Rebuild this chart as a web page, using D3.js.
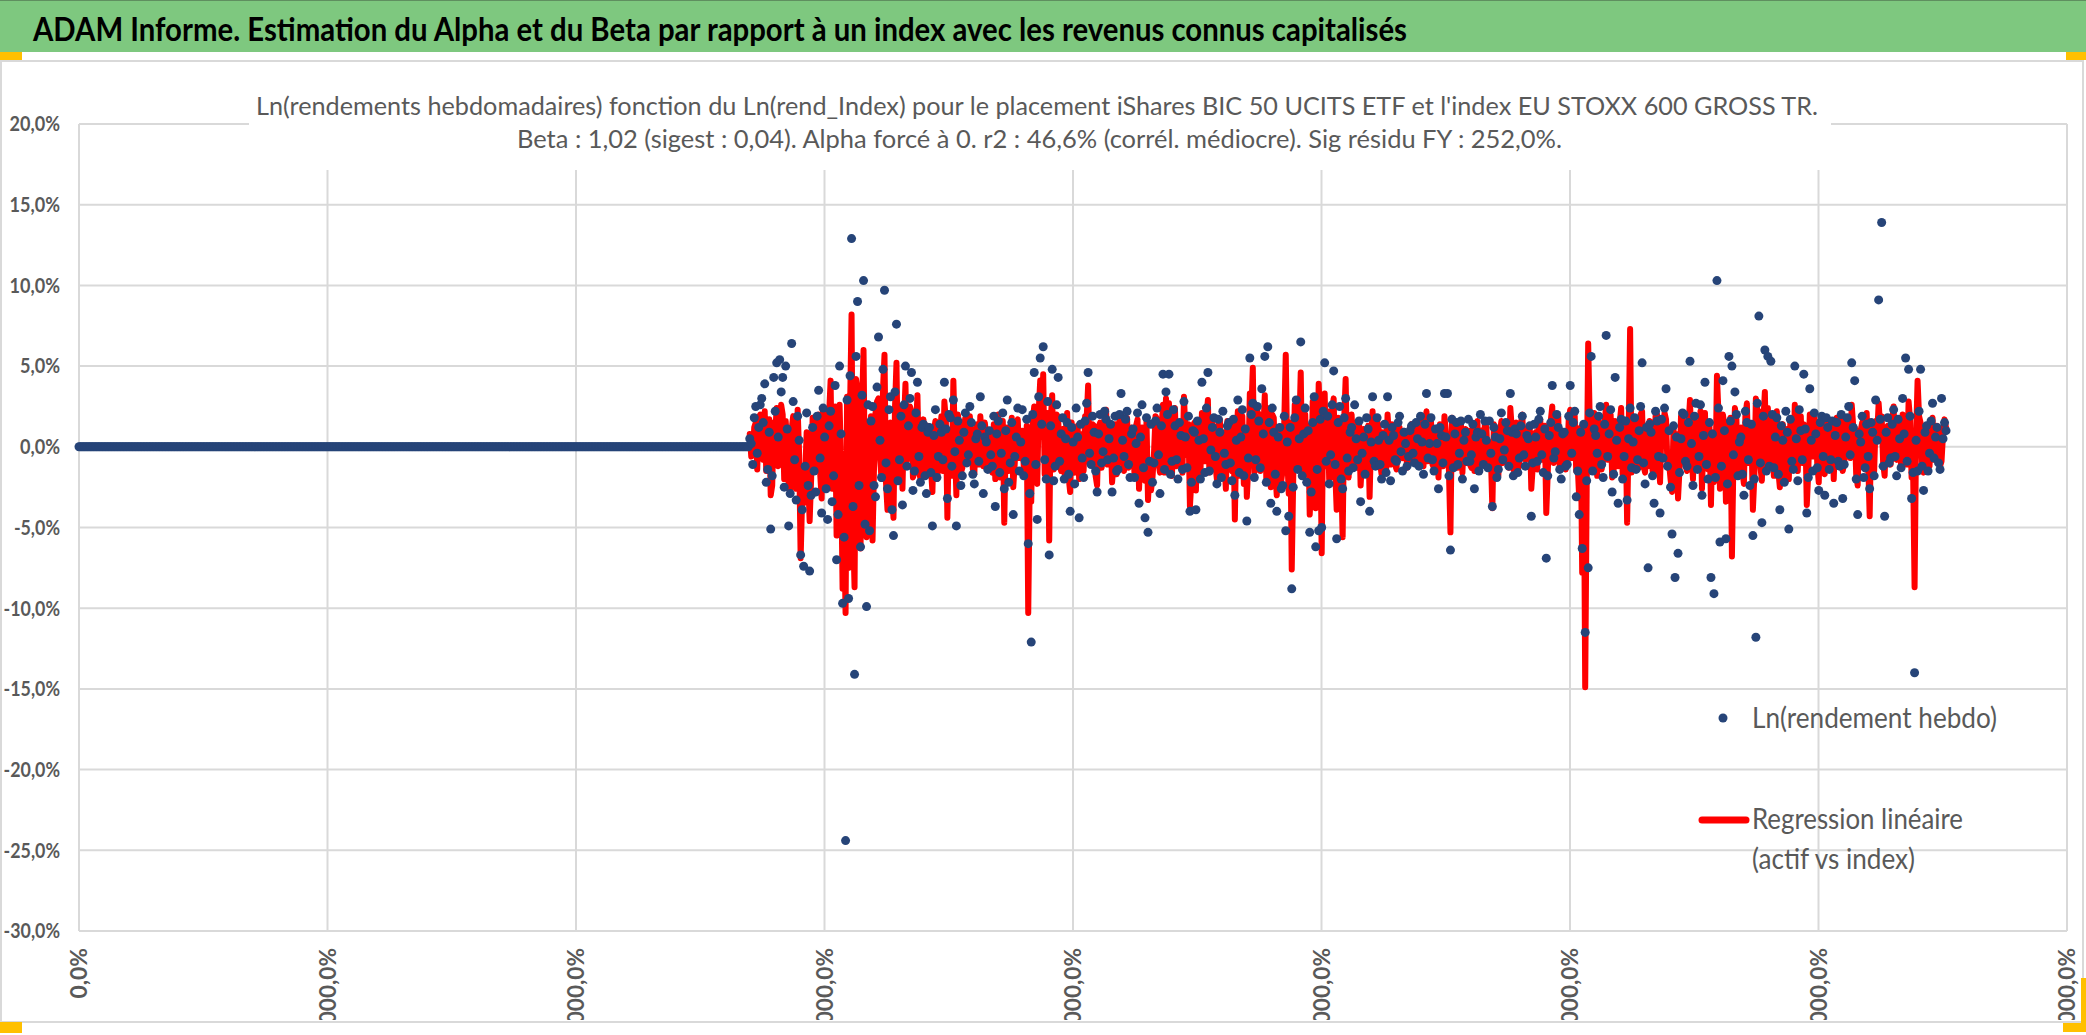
<!DOCTYPE html>
<html>
<head>
<meta charset="utf-8">
<script src="https://cdn.jsdelivr.net/npm/d3@7"></script>
<style>
  body { margin: 0; background: #ffffff; }
  svg { display: block; }
</style>
</head>
<body>
<svg id="chart"></svg>
<script>
// Chart texts
var chartTitle = "ADAM Informe. Estimation du Alpha et du Beta par rapport à un index avec les revenus connus capitalisés";
var subTitle1 = "Ln(rendements hebdomadaires) fonction du Ln(rend_Index) pour le placement iShares BIC 50 UCITS ETF  et l'index EU STOXX 600 GROSS TR.";
var subTitle2 = "Beta : 1,02 (sigest : 0,04). Alpha forcé à 0. r2 : 46,6% (corrél. médiocre). Sig résidu FY : 252,0%.";
var legendLabels = ["Ln(rendement hebdo)", "Regression linéaire", "(actif vs index)"];

// Axis ticks
var yTicks = [20, 15, 10, 5, 0, -5, -10, -15, -20, -25, -30];
var xTicks = [0, 10, 20, 30, 40, 50, 60, 70, 80];
var xTickLabels = ["0,0%", "1000,0%", "2000,0%", "3000,0%", "4000,0%", "5000,0%", "6000,0%", "7000,0%", "8000,0%"];

// Weeks with no history (returns at 0), then the weekly series
var leadZeroWeeks = 448;
var weekStep = 0.06025;

// Ln(rendement hebdo) in %
var assetReturns = [
  0.5, 0.2, -1.1, 1.8, 2.5, -0.4, 1.2, 2.6, 3.0, 1.5, 3.9, -2.2, -1.4, 0.9, -5.1, -1.8, 4.3, 2.2, 5.2, 0.6, 5.4, 3.4, 4.3, -2.5, 5.0, 1.1, -4.9, -2.9, 6.4, 2.8, -0.8, -3.3, 1.9, 0.4, -6.7, -3.9, -7.4, -1.2, 2.1, -2.4,
  -7.7, -3.0, 1.2, -1.5, -2.8, 1.9, 3.5, -0.7, -4.1, 2.4, 0.6, -2.6, -4.5, 1.3, 2.2, -3.4, -1.8, 3.8, -7.0, -4.2, 5.0, 0.8, -9.7, -5.6, -24.4, 2.9, -9.4, 4.4, 12.9, -3.7, -14.1, 5.6, 9.0, -2.4, -6.2, 3.2, 10.3, -4.8, -9.9, 2.6,
  -5.2, 1.6, 2.5, -2.4, -3.1, 3.7, 6.8, 0.4, -1.9, 4.8, 9.7, -1.0, -2.6, 2.3, 3.1, -3.9, -5.5, 3.4, 7.6, -2.1, -0.8, 1.9, -3.6, 2.6, 5.0, -1.2, 1.3, 3.0, 4.6, -2.7, -1.5, 2.1, 4.0, -0.6, -2.2, 1.2, 1.4, -1.8, -2.9, 0.9,
  1.2, -1.6, -4.9, 0.7, 2.3, -1.9, -0.6, 1.4, 0.9, -0.8, 4.0, 1.1, -3.2, 2.0, 1.8, -1.2, 2.9, -0.3, -4.9, 1.6, 0.4, -2.4, -1.8, 0.9, 2.1, -1.0, -0.5, 2.5, 1.5, -1.7, -2.3, 0.5, 0.8, -0.9, 3.1, 1.3, -2.9, 0.6, 0.3, -1.4,
  1.0, -0.5, -1.2, 1.9, -3.7, 0.8, 1.6, -1.6, -0.4, 2.1, -2.6, 1.0, 2.9, -2.2, -1.0, 1.5, -4.2, -0.6, 0.6, 2.4, -1.5, 0.3, 2.3, -1.8, -0.9, 1.7, -6.0, -2.9, -12.1, 2.0, 4.6, -1.1, -4.5, 3.1, 5.5, 1.4, 6.2, -0.8, -2.0, 2.8,
  -6.7, 1.3, 4.8, -2.1, -1.2, 2.6, 4.3, -0.9, 0.8, 1.8, -2.0, 0.5, 1.5, -1.7, -4.0, 1.2, 0.3, -2.3, 2.4, 0.6, -4.4, 1.4, -0.7, -1.9, 1.6, 2.7, 4.6, -0.4, -1.1, 1.9, 0.9, -1.5, -2.8, 0.8, 2.0, -1.0, -0.3, 2.2, 1.7, -0.8,
  0.5, 1.4, -2.8, -0.7, 1.9, -1.5, -1.4, 2.0, 3.3, 0.4, -0.6, 1.7, 2.2, -1.1, -1.9, 0.8, 1.1, -1.9, 0.2, 2.1, -3.5, 0.6, 2.6, -1.3, -4.4, 1.8, -5.3, -0.9, 1.4, -2.2, -1.0, 1.6, 2.4, -0.5, -2.9, 1.3, 4.5, -1.4, 3.4, 2.0,
  4.5, -1.7, -0.9, 2.3, 1.3, -0.8, -2.0, 1.5, 0.7, -1.4, 2.8, 0.6, -1.3, 1.9, -4.0, -2.2, 1.0, 0.9, -3.9, 1.6, 0.4, -2.0, 4.0, 0.5, -1.6, 2.4, 4.6, -1.5, -0.2, 1.2, 1.8, -0.6, -2.3, 1.7, 0.9, -1.9, 2.2, -0.4, -1.1, 1.3,
  1.5, -1.0, -2.1, 1.7, -3.0, 0.4, 2.9, -1.6, 0.6, 2.3, -1.8, 1.1, -4.6, -0.7, 5.5, 2.0, 2.7, -1.9, -0.8, 2.5, 1.6, -1.3, 3.6, 0.8, 5.6, -2.2, 6.2, 1.5, -3.5, 2.4, 0.9, -1.7, -4.0, 0.6, 1.2, -2.6, -2.4, 1.9, -5.2, 0.3,
  -4.3, 1.2, -8.8, -2.5, 1.8, 2.9, -1.4, 0.5, 6.5, -1.8, 0.8, 2.4, -2.2, 1.0, -5.3, -2.8, 1.5, 3.1, -6.2, -1.4, -5.2, 1.7, -5.0, 2.2, 5.2, -0.9, 1.9, -2.3, -0.5, 2.6, 4.7, -1.1, -5.7, 1.5, 2.5, -2.0, -2.6, 1.8, 3.0, -0.7,
  -1.5, 0.9, 1.2, -1.3, 2.6, 0.5, -0.8, 1.6, -3.4, -0.4, 0.6, -1.7, 1.8, 1.1, -4.0, 0.3, 3.1, -0.9, -1.2, 1.8, 0.4, -1.1, -2.0, 0.7, 1.4, -1.6, 3.1, 0.4, -2.1, 1.2, 0.7, -0.8, -0.9, 1.5, 1.9, -0.3, -1.5, 0.9, 0.2, -1.2,
  -0.6, 1.0, 1.3, -0.4, -1.0, 1.5, 0.5, -1.2, 1.9, 0.3, -1.7, 1.4, 3.3, -0.7, 0.2, 1.8, -0.8, -1.5, 1.1, 0.2, -2.6, 1.2, 0.7, -1.0, 3.3, 0.6, 3.3, -1.8, -6.4, 1.7, -1.3, 0.8, 1.5, -1.1, -0.4, 1.6, -2.0, 0.4, 0.9, -0.9,
  1.7, -0.9, -0.5, 1.4, -2.6, 0.6, 0.9, -1.5, 2.0, 0.8, -1.1, 1.6, 0.4, -1.3, 1.6, -0.4, -3.7, 1.2, 0.6, -1.9, -1.4, 0.5, 2.1, -0.8, -0.2, 1.5, 1.0, -1.2, 3.3, 0.9, -1.8, 1.1, 0.8, -1.6, -0.7, 1.3, 1.9, -0.5, -1.2, 0.7,
  0.5, 1.3, -4.3, -1.0, 1.4, 0.6, -0.9, 1.7, 2.2, -0.5, -1.6, 1.1, -6.9, -1.8, 0.7, 1.5, 3.8, -0.7, -0.3, 2.0, 1.2, -1.4, -2.0, 0.8, 0.9, -1.2, -1.1, 1.9, 3.8, -0.4, 1.5, 2.2, -3.1, -1.5, -4.2, 0.9, -6.3, 1.4, -11.5, -2.1,
  -7.5, 2.1, 5.6, -1.5, 1.1, 0.7, -0.4, 1.9, 2.5, -1.1, -1.9, 1.4, 6.9, -0.6, 0.8, 2.3, -2.8, -1.7, 4.3, 0.4, -3.5, 1.2, 1.7, -2.0, -0.6, 1.6, -3.3, 0.5, 2.4, -1.3, 0.3, 1.8, -1.4, -0.8, 1.0, 2.5, 5.2, -1.0, -2.3, 1.2,
  -7.5, 1.4, 0.9, -1.8, -3.5, 2.2, 1.6, -0.6, -4.1, 1.7, -0.7, 2.4, 3.6, -1.2, 1.0, -2.5, -5.4, 1.3, -8.1, 0.6, -6.6, -1.6, 0.5, 2.1, 2.0, -0.9, -1.2, 1.5, 5.3, 0.2, -2.4, 1.9, 2.7, -1.4, -0.6, 2.6, -3.0, 0.7, 4.0, -1.1,
  -2.0, 1.5, -8.1, 0.8, -9.1, -1.9, 10.3, 2.4, -5.9, -1.2, 4.1, 1.0, -5.7, -2.3, 5.6, 1.6, 5.0, -0.5, 3.4, 2.0, -1.8, 0.3, 0.6, -1.7, -3.0, 2.2, 1.5, -0.8, -2.4, 1.4, -5.5, -2.0, -11.8, 2.7, 8.1, -1.0, -4.7, 1.9, 6.0, -1.5,
  5.6, -1.2, 5.3, 2.0, -1.3, 0.6, 1.8, -1.7, -3.9, 1.3, 0.4, -2.2, 2.2, 0.9, -5.1, 1.7, -0.9, -1.4, 5.0, 0.5, -2.1, 2.3, 1.0, -0.8, 4.5, 1.1, -4.1, -1.9, 3.6, 0.4, -1.5, 2.1, 0.8, -1.3, -2.7, 1.5, 1.9, -0.6, -3.0, 1.8,
  1.2, -1.4, -0.8, 1.6, -3.5, 0.7, 1.5, -0.9, -1.2, 2.0, -3.2, -1.1, 0.6, 1.8, 2.5, -0.5, 5.2, 1.2, 4.1, -2.0, -4.2, 0.8, 0.3, 1.9, -1.9, -1.3, 1.4, -0.6, -2.6, 1.5, 0.9, -1.8, 2.9, 0.4, 9.1, 1.7, 13.9, -1.2, -4.3, 0.9,
  1.8, -1.0, -0.7, 1.4, 2.3, -0.6, -1.8, 1.7, 0.5, -1.3, 3.0, 0.8, 5.5, -0.9, 4.8, 1.9, -3.2, -1.6, -14.0, 0.4, -1.5, 2.2, 4.8, -1.2, -2.7, 0.9, 1.3, -1.5, -0.4, 1.6, 2.7, -0.7, 0.6, 1.2, -1.0, -1.4, 3.0, 0.5, 1.5, 1.0
];

// Regression linéaire (Beta x Ln(rend_Index)) in %
var fittedReturns = [
  0.8, -0.6, -0.5, 1.2, 1.5, -1.4, 1.8, 2.0, 0.6, -0.8, 2.2, -1.5, -1.2, 1.7, -3.0, -2.4, 1.5, 0.9, 2.4, -1.2, 0.3, 2.6, 2.0, -2.0, 1.6, 0.3, -2.5, -2.8, 1.1, 1.9, -0.6, -2.6, 2.3, -0.5, -6.9, -3.1, -3.5, -1.8, 0.9, -1.9,
  -4.6, -2.0, 1.8, -0.9, -1.5, 1.1, 2.0, -1.6, -3.2, 2.3, 1.0, -1.8, -2.4, 2.0, 4.1, -2.6, -1.0, 2.5, -5.5, -3.4, 2.6, -1.2, -8.8, -4.5, -10.3, 3.1, -7.5, 2.4, 8.2, -5.0, -8.7, 4.2, 3.5, -3.8, -6.3, 2.6, 6.0, -3.3, -5.6, 1.5,
  -3.8, 1.9, -5.8, -1.3, 2.1, 2.8, 3.0, -0.6, -2.0, 3.6, 5.7, -2.2, -3.9, 1.2, 1.5, -2.9, -4.4, 2.4, 5.2, -1.7, -1.0, 2.3, -2.6, 1.4, 3.9, -0.8, 0.4, 2.5, 2.2, -1.9, -1.6, 1.1, 3.2, -1.4, -2.0, 0.8, 1.7, -0.9, -1.8, 1.3,
  0.8, -1.3, -2.8, 1.0, 1.6, -2.0, -1.1, 0.8, 1.9, -1.5, 2.8, 1.6, -4.4, 0.9, 0.5, -1.8, 4.1, 0.4, -3.0, 2.0, 1.2, -1.6, -1.3, 1.2, 1.8, -0.5, -0.9, 1.9, 0.6, -1.4, -1.7, 1.0, 1.4, -1.1, 1.9, 0.6, -1.2, 1.5, 0.7, -1.0,
  0.9, -1.2, -1.6, 1.4, -2.0, 1.1, 2.0, -1.9, -0.6, 1.6, -4.7, 0.7, 1.2, -1.5, -0.8, 1.8, -2.5, -1.0, 1.4, 1.7, -0.7, -0.3, 1.0, -1.2, -1.9, 1.3, -10.3, -2.2, -3.4, 1.6, 2.5, -1.8, -2.3, 2.2, 4.1, 0.6, 4.5, -1.7, -1.4, 2.1,
  -5.8, 1.6, 3.2, -1.4, -0.4, 2.0, 1.8, -1.2, -1.5, 1.1, -1.6, 0.9, 2.1, -1.9, -2.8, 1.5, 0.6, -1.6, 1.0, 1.3, -2.0, 0.8, -1.2, -1.5, 1.9, 1.7, 3.8, -1.0, -0.8, 1.4, 1.3, -1.8, -2.4, 1.2, 1.5, -1.3, -0.6, 1.9, 2.3, -1.1,
  1.1, 1.0, -2.2, -1.1, 1.4, -1.7, -0.7, 1.8, 2.0, -0.6, -1.5, 1.5, 1.8, -1.3, -1.1, 1.2, 0.7, -1.8, 1.3, 1.7, -2.6, -0.4, 1.2, -1.2, -2.1, 1.6, -3.3, -1.4, -2.7, -1.9, -0.4, 1.9, 1.7, -1.0, -1.6, 1.1, 2.6, -1.6, 3.0, 1.4,
  2.7, -1.5, -1.8, 1.9, 2.4, -1.2, -1.0, 1.3, 1.5, -1.6, 3.1, 1.0, -0.5, 1.4, -3.7, -2.0, 1.3, 1.5, -2.7, 1.1, 1.6, -1.7, 2.1, 1.2, -0.9, 1.8, 2.9, -1.6, -1.4, 1.5, 0.8, -1.1, -2.0, 1.3, 1.7, -1.5, 0.9, -0.8, -2.6, 1.6,
  0.9, -1.3, -1.5, 1.6, -4.5, 0.8, 2.2, -1.8, -0.9, 1.9, -2.3, 1.2, -3.1, -1.2, 3.3, 2.1, 4.9, -1.6, -1.2, 2.2, 2.0, -1.5, 1.1, 1.0, 3.2, -2.0, 2.4, 1.7, -2.5, 2.0, 1.8, -1.6, -3.0, 1.2, 0.6, -2.1, -1.4, 1.5, 5.7, -0.6,
  -2.9, 1.5, -7.6, -1.9, 2.6, 2.4, -1.1, 0.9, 4.6, -1.6, -0.3, 2.0, -1.7, 1.3, -4.2, -2.3, 2.8, 2.6, -3.8, -1.7, 3.9, 1.4, -6.6, 1.9, 3.3, -1.2, 2.2, -2.0, -1.9, 2.2, 3.0, -1.4, -3.9, 1.8, 1.4, -1.6, -5.6, 1.6, 4.2, -1.0,
  -1.9, 1.1, 2.0, -1.0, 1.5, 0.7, -1.3, 1.4, -2.4, -0.8, 1.1, -1.4, 0.8, 1.3, -3.1, 0.5, 2.2, -1.2, -0.6, 1.6, 1.3, -1.0, -1.7, 0.9, 0.5, -1.5, 2.0, 0.6, -1.1, 1.4, 0.9, -1.1, -1.4, 1.3, 1.2, -0.6, -0.7, 1.0, 0.6, -1.3,
  -1.0, 1.2, 1.4, -0.7, -0.3, 1.3, 1.0, -1.1, 1.6, 0.6, -1.2, 1.5, 2.2, -0.9, -0.5, 1.6, -1.1, -1.3, 0.8, 0.5, -1.9, 1.4, 1.2, -1.2, 1.9, 0.8, 0.6, -1.5, -5.3, 1.8, -0.8, 0.7, 1.3, -1.3, -0.9, 1.5, -1.6, 0.6, 1.1, -1.0,
  1.0, -1.1, -1.3, 1.3, -1.5, 0.9, 1.6, -1.4, 0.7, 1.0, -0.9, 1.5, 1.2, -1.2, 0.3, -0.6, -3.8, 1.4, 1.1, -1.7, -1.8, 0.8, 1.6, -1.0, 0.5, 1.3, -0.6, -1.3, 2.4, 1.1, -1.4, 1.2, 1.5, -1.5, -1.0, 1.4, 2.0, -0.7, -0.8, 0.9,
  1.2, 1.1, -2.6, -1.2, 0.8, 0.9, -1.4, 1.5, 1.7, -0.8, -0.5, 1.3, -4.1, -1.6, 1.3, 1.6, 2.5, -1.0, -0.8, 1.8, 1.9, -1.3, -1.2, 1.0, 0.4, -1.4, -0.6, 1.7, 2.3, -0.7, 0.9, 1.9, -1.5, -1.2, -3.2, 1.2, -7.8, 1.0, -14.9, -2.5,
  6.4, 1.8, -1.0, -1.3, 2.1, 0.9, -1.8, 1.6, 1.4, -1.4, -0.7, 1.5, 2.6, -0.8, 1.2, 2.0, -1.9, -1.5, 1.6, 0.7, -1.2, 1.4, 2.4, -1.7, -1.5, 1.3, -4.7, 0.6, 7.3, -1.6, -0.9, 1.7, 1.1, -1.0, -1.3, 2.0, 2.2, -1.2, -1.6, 1.0,
  -1.2, 1.6, 1.5, -1.5, -1.6, 1.9, 2.0, -0.9, -2.2, 1.4, 0.6, 2.1, 1.7, -1.3, -1.0, -2.0, -2.8, 1.2, -1.7, 0.8, -3.2, -1.4, 1.9, 1.8, 0.7, -1.1, -1.5, 1.3, 2.9, -0.3, -2.0, 1.6, 1.3, -1.2, -0.4, 2.2, -2.6, 0.5, 2.1, -1.3,
  -1.4, 1.3, -3.6, 0.9, -2.2, -1.6, 4.4, 2.1, -2.6, -1.4, 2.0, 1.2, -3.4, -2.0, 1.5, 1.8, -6.8, -0.9, 2.4, 1.7, -1.6, 0.5, 1.2, -1.5, -2.3, 1.9, 2.7, -1.0, -0.8, 1.2, -3.9, -1.8, 3.0, 2.3, 2.2, -1.2, -2.1, 1.6, 3.4, -1.3,
  2.4, -1.3, 1.1, 1.7, -1.8, 0.8, 2.2, -1.5, -2.5, 1.2, 1.4, -1.8, 0.6, 1.1, -2.0, 1.5, -1.2, -1.2, 2.6, 0.6, -1.5, 1.9, 1.9, -1.0, 1.4, 1.3, -3.6, -1.6, 2.0, 0.7, -0.6, 1.8, 1.5, -1.1, -2.2, 1.4, 0.9, -0.8, -1.7, 1.6,
  0.7, -1.2, -1.4, 1.4, -2.0, 0.9, 1.8, -1.1, -0.9, 1.7, -1.5, -1.0, 1.3, 1.6, 0.5, -0.7, 2.6, 1.3, 1.2, -1.7, -2.4, 1.0, 1.0, 1.5, -1.3, -1.4, 2.1, -0.8, -4.3, 1.2, 0.6, -1.5, 1.6, 0.7, 2.7, 1.3, 1.9, -1.0, -1.8, 1.1,
  1.3, -0.9, -1.1, 1.5, 2.5, -0.7, -0.8, 1.6, 1.2, -1.2, 2.0, 1.0, 1.4, -1.1, 2.8, 1.7, -1.9, -1.4, -8.7, 0.6, 4.1, 1.9, 1.5, -1.0, -1.6, 1.1, 0.9, -1.3, -1.2, 1.4, 1.8, -0.8, -0.5, 1.3, 0.7, -1.2, -0.9, 0.8, 1.7, 1.2
];

// Build the point tables (x in axis units, y in %)
var zeroPoints = new Array(leadZeroWeeks).fill(0).map(function (v, i) {
    return { x: i * weekStep, y: v };
});
var assetPoints = assetReturns.map(function (v, i) {
    return { x: (leadZeroWeeks + i) * weekStep, y: v };
});
var fitPoints = fittedReturns.map(function (v, i) {
    return { x: (leadZeroWeeks + i) * weekStep, y: v };
});

var W = 2086, H = 1035;
var plot = { left: 79, right: 2067, top: 124, bottom: 931 };
var grey = "#d9d9d9", textGrey = "#595959", navy = "#264478", red = "#ff0000";
var font = "Lato, 'Open Sans', 'DejaVu Sans', sans-serif";

// rough Calibri-like advance widths used to squeeze the tick labels
var charW = { "-": 6, ",": 5, "%": 14.5 };
function labelWidth(s) {
    return s.split("").reduce((w, c) => w + (charW[c] || 10.3), 0);
}

var svg = d3.select("#chart").attr("width", W).attr("height", H);

// Scales
var x = d3.scaleLinear().domain([0, 80]).range([plot.left, plot.right]);
var y = d3.scaleLinear().domain([-30, 20]).range([plot.bottom, plot.top]);

// Title band
svg.append("rect").attr("x", 0).attr("y", 0).attr("width", W).attr("height", 52)
    .attr("fill", "#7ec87f");
svg.append("line").attr("x1", 0).attr("x2", W).attr("y1", 0.5).attr("y2", 0.5)
    .attr("stroke", "#5f8f5f").attr("stroke-width", 1);
svg.append("text")
    .attr("x", 33).attr("y", 41)
    .attr("font-family", font)
    .attr("font-weight", "bold")
    .attr("font-size", 33)
    .attr("textLength", 1374)
    .attr("lengthAdjust", "spacingAndGlyphs")
    .attr("fill", "#000000")
    .text(chartTitle);

// Chart frame
svg.append("rect").attr("x", 1).attr("y", 61).attr("width", 2082).attr("height", 961)
    .attr("fill", "none").attr("stroke", grey).attr("stroke-width", 2);

// Excel selection handles
var handles = [[0, 52, 22, 8], [2066, 52, 20, 8], [0, 1022, 22, 11], [2081, 978, 5, 54], [2063, 1023, 23, 9]];
svg.selectAll(".handle").data(handles).enter().append("rect")
    .attr("class", "handle")
    .attr("x", d => d[0]).attr("y", d => d[1])
    .attr("width", d => d[2]).attr("height", d => d[3])
    .attr("fill", "#ffc000");

// Gridlines
svg.append("g").selectAll("line").data(yTicks).enter().append("line")
    .attr("x1", plot.left).attr("x2", plot.right)
    .attr("y1", d => y(d)).attr("y2", d => y(d))
    .attr("stroke", grey).attr("stroke-width", 2);
svg.append("g").selectAll("line").data(xTicks).enter().append("line")
    .attr("x1", d => x(d)).attr("x2", d => x(d))
    .attr("y1", plot.top).attr("y2", plot.bottom)
    .attr("stroke", grey).attr("stroke-width", 2);

// Y axis labels (plain hyphen as in the sheet)
var fmtPct = d => d3.format(".1f")(d).replace("\u2212", "-").replace(".", ",") + "%";
svg.append("g").selectAll("text").data(yTicks).enter().append("text")
    .attr("x", 60).attr("y", d => y(d))
    .attr("dy", "0.35em")
    .attr("text-anchor", "end")
    .attr("font-family", font)
    .attr("font-weight", "bold")
    .attr("font-size", 21)
    .attr("textLength", d => labelWidth(fmtPct(d)))
    .attr("lengthAdjust", "spacingAndGlyphs")
    .attr("fill", textGrey)
    .text(fmtPct);

// X axis labels (rotated, cut by the chart bottom like in the sheet)
svg.append("clipPath").attr("id", "xclip")
    .append("rect").attr("x", 0).attr("y", 935).attr("width", W).attr("height", 85);
svg.append("g").attr("clip-path", "url(#xclip)")
    .selectAll("text").data(xTicks).enter().append("text")
    .attr("transform", d => "translate(" + (x(d) + 8) + ",948) rotate(-90)")
    .attr("text-anchor", "end")
    .attr("font-family", font)
    .attr("font-weight", "bold")
    .attr("font-size", 22)
    .attr("textLength", (d, i) => labelWidth(xTickLabels[i]) * 1.26)
    .attr("lengthAdjust", "spacingAndGlyphs")
    .attr("fill", textGrey)
    .text((d, i) => xTickLabels[i]);

// Subtitle box (hides gridlines behind it)
svg.append("rect").attr("x", 249).attr("y", 82).attr("width", 1582).attr("height", 88)
    .attr("fill", "#ffffff");
svg.append("text")
    .attr("x", 256).attr("y", 115)
    .attr("font-family", font)
    .attr("font-size", 25)
    .attr("textLength", 1562)
    .attr("lengthAdjust", "spacingAndGlyphs")
    .attr("fill", textGrey)
    .text(subTitle1);
svg.append("text")
    .attr("x", 517).attr("y", 148)
    .attr("font-family", font)
    .attr("font-size", 25)
    .attr("textLength", 1045)
    .attr("lengthAdjust", "spacingAndGlyphs")
    .attr("fill", textGrey)
    .text(subTitle2);

// Regression line
var line = d3.line().x(d => x(d.x)).y(d => y(d.y));
svg.append("path")
    .datum(fitPoints)
    .attr("d", line)
    .attr("fill", "none")
    .attr("stroke", red)
    .attr("stroke-width", 6)
    .attr("stroke-linejoin", "round")
    .attr("stroke-linecap", "round");

// Weekly returns points
svg.append("g").selectAll("circle").data(zeroPoints.concat(assetPoints)).enter().append("circle")
    .attr("cx", d => x(d.x))
    .attr("cy", d => y(d.y))
    .attr("r", 4.5)
    .attr("fill", navy);

// Legend
var legend = svg.append("g");
legend.append("circle").attr("cx", 1723).attr("cy", 718).attr("r", 4.5).attr("fill", navy);
legend.append("line").attr("x1", 1702).attr("x2", 1746).attr("y1", 820).attr("y2", 820)
    .attr("stroke", red).attr("stroke-width", 7).attr("stroke-linecap", "round");
var legendText = [
    { label: legendLabels[0], y: 728, len: 245 },
    { label: legendLabels[1], y: 829, len: 211 },
    { label: legendLabels[2], y: 869, len: 163 }
];
legend.selectAll("text").data(legendText).enter().append("text")
    .attr("x", 1752).attr("y", d => d.y)
    .attr("font-family", font)
    .attr("font-size", 29)
    .attr("textLength", d => d.len)
    .attr("lengthAdjust", "spacingAndGlyphs")
    .attr("fill", textGrey)
    .text(d => d.label);
</script>
</body>
</html>
